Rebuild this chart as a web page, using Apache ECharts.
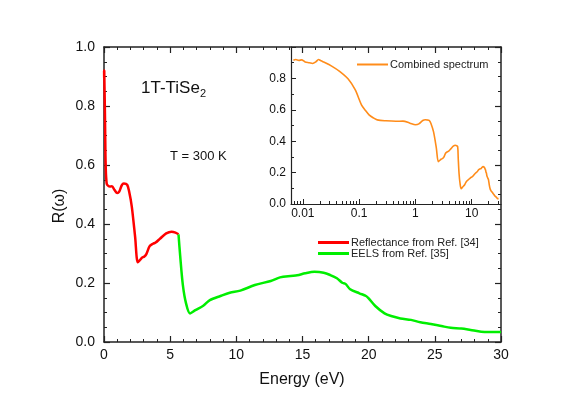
<!DOCTYPE html>
<html>
<head>
<meta charset="utf-8">
<script src="https://cdn.jsdelivr.net/npm/echarts@6/dist/echarts.min.js"></script>
<style>
  html, body { margin: 0; padding: 0; background: #fff; }
  #chart { width: 581px; height: 411px; }
</style>
</head>
<body>
<div id="chart"></div>
<script>
// reflectance data (eV, R)
let reflE = [0.0068, 0.0075, 0.0085, 0.0095, 0.011, 0.013, 0.015, 0.017, 0.019, 0.021, 0.025, 0.032, 0.045, 0.064, 0.085,
  0.11, 0.13, 0.15, 0.18, 0.21, 0.3, 0.45, 0.6, 0.8, 1.0, 1.15, 1.35, 1.5, 1.75, 1.9, 2.1, 2.35, 2.55, 2.7, 2.85,
  3.05, 3.2, 3.45, 3.7, 3.9, 4.25, 4.7, 5.1, 5.4, 5.63]
let reflR = [0.915, 0.92, 0.915, 0.918, 0.905, 0.9, 0.895, 0.905, 0.92, 0.912, 0.9, 0.88, 0.845, 0.796, 0.728,
  0.632, 0.595, 0.568, 0.548, 0.536, 0.53, 0.527, 0.528, 0.515, 0.505, 0.51, 0.532, 0.537, 0.533, 0.51, 0.459, 0.357, 0.27, 0.277, 0.285,
  0.29, 0.298, 0.325, 0.333, 0.337, 0.351, 0.368, 0.374, 0.371, 0.365]
// EELS data
let eelsE = [5.63, 5.76, 5.96, 6.2, 6.5, 6.9, 7.5, 8.0, 8.8, 9.5, 10.3, 11.4, 12.6, 13.3, 14.1, 14.6, 15.2, 15.9, 16.6, 17.1,
  17.6, 18.0, 18.25, 18.6, 19.3, 19.8, 20.0, 20.5, 21.2, 21.7, 22.4, 23.2, 23.9, 24.7, 25.5, 26.2, 27.0, 27.7, 28.5, 30]
let eelsR = [0.365, 0.29, 0.193, 0.131, 0.097, 0.108, 0.123, 0.142, 0.156, 0.167, 0.174, 0.193, 0.207, 0.219, 0.224, 0.226, 0.233, 0.238, 0.235, 0.227,
  0.216, 0.201, 0.197, 0.179, 0.165, 0.156, 0.148, 0.122, 0.097, 0.088, 0.08, 0.075, 0.067, 0.061, 0.054, 0.048, 0.046, 0.041, 0.035, 0.034]
// inset log axis ticks
let insetMajor = [0.01, 0.1, 1, 10]
let insetMinor = [0.007, 0.008, 0.009, 0.02, 0.03, 0.04, 0.05, 0.06, 0.07, 0.08, 0.09,
  0.2, 0.3, 0.4, 0.5, 0.6, 0.7, 0.8, 0.9, 2, 3, 4, 5, 6, 7, 8, 9, 20, 30]

let font = 'Liberation Sans, Arial, sans-serif'
let axisColor = '#222'

function pairs(xs, ys) {
  return xs.map(function(x, i) { return [x, ys[i]] })
}
let combined = pairs(reflE.concat(eelsE.slice(1)), reflR.concat(eelsR.slice(1)))
  .map(function(p) { return [Math.log10(p[0]), p[1]] })

function mainX(pos, labels) {
  return {
    type: 'value', gridIndex: 0, position: pos, min: 0, max: 30, interval: 5,
    axisLine: { show: true, onZero: false, lineStyle: { color: axisColor, width: 1.5 } },
    axisTick: { show: true, inside: true, length: 6, lineStyle: { color: axisColor, width: 1.2 } },
    minorTick: { show: true, splitNumber: 5, length: 3, lineStyle: { color: axisColor, width: 1 } },
    axisLabel: { show: labels, fontSize: 14, color: '#111', fontFamily: font, margin: 6 },
    splitLine: { show: false }
  }
}
function mainY(pos, labels) {
  return {
    type: 'value', gridIndex: 0, position: pos, min: 0, max: 1, interval: 0.2,
    axisLine: { show: true, onZero: false, lineStyle: { color: axisColor, width: 1.5 } },
    axisTick: { show: true, inside: true, length: 6, lineStyle: { color: axisColor, width: 1.2 } },
    minorTick: { show: true, splitNumber: 4, length: 3, lineStyle: { color: axisColor, width: 1 } },
    axisLabel: { show: labels, fontSize: 14, color: '#111', fontFamily: font, margin: 9,
      formatter: function(v) { return v.toFixed(1) } },
    splitLine: { show: false }
  }
}

let option = {
  animation: false,
  backgroundColor: '#fff',
  grid: [
    { left: 104, right: 80, top: 47, bottom: 69 },
    { left: 291, right: 80, top: 47, height: 157, backgroundColor: '#fff', show: true, borderWidth: 0 }
  ],
  legend: [
    {
      data: ['Reflectance from Ref. [34]', 'EELS from Ref. [35]'],
      orient: 'vertical', left: 313, top: 232, icon: 'rect', itemWidth: 31, itemHeight: 3, itemGap: 0,
      textStyle: { fontSize: 11, color: '#222', fontFamily: font, padding: [0, 0, 0, -3] }
    },
    {
      data: ['Combined spectrum'],
      left: 352, top: 54, icon: 'rect', itemWidth: 31, itemHeight: 2, itemGap: 6,
      textStyle: { fontSize: 11, color: '#222', fontFamily: font, padding: [0, 0, 0, -3] }
    }
  ],
  xAxis: [
    mainX('bottom', true),
    mainX('top', false),
    {
      type: 'value', gridIndex: 1, position: 'bottom', min: -2.21, max: 1.52,
      axisLine: { show: true, onZero: false, lineStyle: { color: axisColor, width: 1.2 } },
      axisTick: { show: true, inside: true, length: 5, lineStyle: { color: axisColor, width: 1 },
        customValues: insetMajor.map(Math.log10) },
      axisLabel: { fontSize: 12, color: '#111', fontFamily: font, margin: 4,
        customValues: insetMajor.map(Math.log10),
        formatter: function(v) { return String(Number(Math.pow(10, v).toPrecision(1))) } },
      splitLine: { show: false }
    },
    {
      type: 'value', gridIndex: 1, position: 'bottom', min: -2.21, max: 1.52,
      axisLine: { show: false },
      axisTick: { show: true, inside: true, length: 3, lineStyle: { color: axisColor, width: 1 },
        customValues: insetMinor.map(Math.log10) },
      axisLabel: { show: false },
      splitLine: { show: false }
    }
  ],
  yAxis: [
    mainY('left', true),
    mainY('right', false),
    {
      type: 'value', gridIndex: 1, position: 'left', min: 0, max: 1, interval: 0.2,
      axisLine: { show: true, onZero: false, lineStyle: { color: axisColor, width: 1.2 } },
      axisTick: { show: true, inside: true, length: 5, lineStyle: { color: axisColor, width: 1 } },
      minorTick: { show: true, splitNumber: 2, length: 3, lineStyle: { color: axisColor, width: 1 } },
      axisLabel: { fontSize: 12, color: '#111', fontFamily: font, margin: 5, showMaxLabel: false,
        formatter: function(v) { return v.toFixed(1) } },
      splitLine: { show: false }
    }
  ],
  series: [
    {
      name: 'Reflectance from Ref. [34]', type: 'line', xAxisIndex: 0, yAxisIndex: 0,
      data: pairs(reflE, reflR), symbol: 'none', smooth: 0.3,
      lineStyle: { color: '#ff0000', width: 2.5 }, itemStyle: { color: '#ff0000' }
    },
    {
      name: 'EELS from Ref. [35]', type: 'line', xAxisIndex: 0, yAxisIndex: 0,
      data: pairs(eelsE, eelsR), symbol: 'none', smooth: 0.3,
      lineStyle: { color: '#00ee00', width: 2.5 }, itemStyle: { color: '#00ee00' }
    },
    {
      name: 'Combined spectrum', type: 'line', xAxisIndex: 2, yAxisIndex: 2,
      data: combined, symbol: 'none', smooth: 0.3,
      lineStyle: { color: '#ff8c1a', width: 1.6 }, itemStyle: { color: '#ff8c1a' }
    }
  ],
  graphic: [
    {
      type: 'text', left: 141, top: 80,
      style: {
        text: '1T-TiSe{s|2}', fontSize: 17, fontFamily: font, fill: '#111',
        rich: { s: { fontSize: 11, fontFamily: font, fill: '#111', padding: [10, 0, 0, 0] } }
      }
    },
    {
      type: 'text', left: 170, top: 150,
      style: { text: 'T = 300 K', fontSize: 13, fontFamily: font, fill: '#111' }
    },
    {
      type: 'text', x: 60, y: 206, rotation: Math.PI / 2,
      style: { text: 'R(\u03c9)', fontSize: 16, fontFamily: font, fill: '#111', align: 'center', verticalAlign: 'middle' }
    },
    {
      type: 'text', x: 302, y: 380,
      style: { text: 'Energy (eV)', fontSize: 16, fontFamily: font, fill: '#111', align: 'center', verticalAlign: 'middle' }
    }
  ]
}

let myChart = echarts.init(document.getElementById('chart'))
myChart.setOption(option)
</script>
</body>
</html>
